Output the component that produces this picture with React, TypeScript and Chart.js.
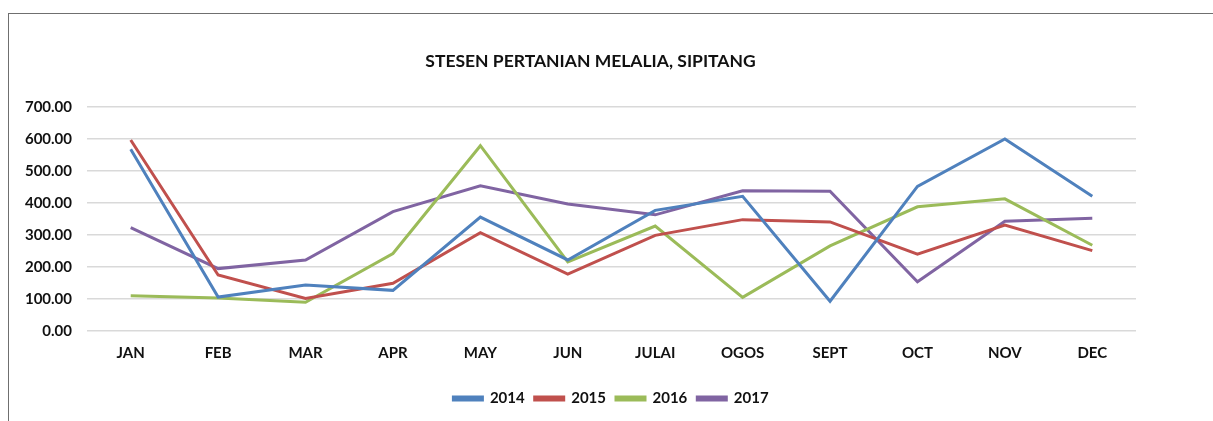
import React, { useEffect, useRef } from "react";
import { Chart, registerables } from "chart.js";

Chart.register(...registerables);

const TITLE = "STESEN PERTANIAN MELALIA, SIPITANG";
const MONTHS = ["JAN", "FEB", "MAR", "APR", "MAY", "JUN", "JULAI", "OGOS", "SEPT", "OCT", "NOV", "DEC"];
const Y_TICKS = [0, 100, 200, 300, 400, 500, 600, 700];

const V2014 = [568, 106, 144, 127, 356, 222, 377, 421, 93, 452, 600, 421];
const V2015 = [597, 175, 102, 149, 307, 178, 299, 348, 341, 240, 331, 251];
const V2016 = [110, 103, 90, 242, 579, 216, 328, 105, 266, 388, 413, 268];
const V2017 = [323, 195, 222, 373, 454, 397, 363, 438, 437, 154, 343, 352];

const SERIES = [
  { label: "2014", data: V2014, color: "#4F81BD" },
  { label: "2015", data: V2015, color: "#C0504D" },
  { label: "2016", data: V2016, color: "#9BBB59" },
  { label: "2017", data: V2017, color: "#8064A2" },
];

const FONT = "Lato, 'Open Sans', sans-serif";

const titlePlugin = {
  id: "offsetTitle",
  afterDraw(chart: any) {
    const ctx = chart.ctx;
    const area = chart.chartArea;
    ctx.save();
    ctx.font = `bold 17.5px ${FONT}`;
    ctx.fillStyle = "#111";
    ctx.textAlign = "center";
    ctx.textBaseline = "middle";
    ctx.fillText(TITLE, (area.left + area.right) / 2 - 21, 47);
    ctx.restore();
  },
};

export default function App() {
  const ref = useRef<HTMLCanvasElement | null>(null);

  useEffect(() => {
    if (!ref.current) return;
    const chart = new Chart(ref.current, {
      type: "line",
      data: {
        labels: MONTHS,
        datasets: SERIES.map((s) => ({
          label: s.label,
          data: s.data,
          borderColor: s.color,
          backgroundColor: s.color,
          borderWidth: 3,
          pointRadius: 0,
          tension: 0,
          fill: false,
        })),
      },
      options: {
        animation: false,
        responsive: false,
        layout: { padding: { top: 93, bottom: 5, left: 0, right: 0 } },
        plugins: {
          title: { display: false },
          tooltip: { enabled: false },
          legend: {
            position: "bottom",
            labels: {
              boxWidth: 29,
              boxHeight: 3,
              padding: 10,
              color: "#111",
              font: { family: FONT, size: 15, weight: "bold" },
            },
          },
        },
        scales: {
          x: {
            offset: true,
            grid: { display: false, drawTicks: false },
            border: { display: false },
            ticks: {
              color: "#111",
              padding: 13,
              font: { family: FONT, size: 15, weight: "bold" },
            },
            afterFit(scale: any) {
              scale.height = 50;
            },
          },
          y: {
            min: 0,
            max: 700,
            afterBuildTicks(scale: any) {
              scale.ticks = Y_TICKS.map((v) => ({ value: v }));
            },
            grid: { color: "#d9d9d9", lineWidth: 1.5, drawTicks: false },
            border: { display: false },
            ticks: {
              color: "#111",
              padding: 15,
              font: { family: FONT, size: 15, weight: "bold" },
              callback: (v: any) => Number(v).toFixed(2),
            },
            afterFit(scale: any) {
              scale.width = 78;
            },
          },
          yRight: {
            position: "right",
            min: 0,
            max: 700,
            grid: { display: false, drawTicks: false },
            border: { display: false },
            ticks: { display: false },
            afterFit(scale: any) {
              scale.width = 77;
            },
          },
        },
      },
      plugins: [titlePlugin],
    });
    return () => chart.destroy();
  }, []);

  return (
    <div
      style={{
        position: "absolute",
        left: 8,
        top: 13,
        width: 1205,
        height: 408,
        borderTop: "1px solid #6f6f6f",
        borderLeft: "1px solid #6f6f6f",
        background: "#fff",
        boxSizing: "border-box",
        overflow: "hidden",
      }}
    >
      <canvas ref={ref} width={1204} height={407} style={{ display: "block" }} />
    </div>
  );
}
